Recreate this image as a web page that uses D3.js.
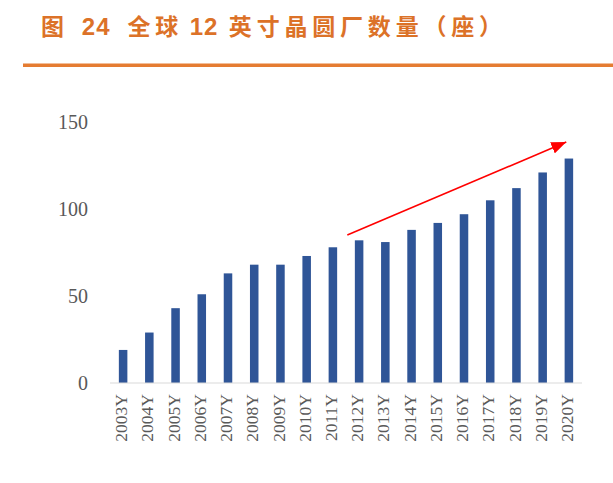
<!DOCTYPE html>
<html>
<head>
<meta charset="utf-8">
<script src="https://cdn.jsdelivr.net/npm/d3@7"></script>
<style>
  body { margin: 0; background: #fff; }
</style>
</head>
<body>
<div id="chart"></div>
<script>
// Global 12-inch fab count per year
const years = ["2003Y", "2004Y", "2005Y", "2006Y", "2007Y", "2008Y", "2009Y", "2010Y", "2011Y",
  "2012Y", "2013Y", "2014Y", "2015Y", "2016Y", "2017Y", "2018Y", "2019Y", "2020Y"]
const fabCounts = [19, 29, 43, 51, 63, 68, 68, 73, 78, 82, 81, 88, 92, 97, 105, 112, 121, 129]
const yTicks = [0, 50, 100, 150]
// title pieces: CJK runs are spaced wider than the digit runs
const titleParts = ["图", "24", "全球", "12", "英寸晶圆厂数量（座）"]
const titleGaps = [0, 13, 17, 6.5, 10.5]
// trend arrow: [category, offset in bands, value]
const arrowFrom = ["2011Y", 0.55, 85]
const arrowTo = ["2020Y", -0.1, 138.5]

const width = 613
const height = 483
const margin = { top: 122, right: 31, bottom: 100, left: 110 }

const svg = d3.select("#chart")
  .append("svg")
  .attr("width", width)
  .attr("height", height)
  .attr("viewBox", `0 0 ${width} ${height}`)

// --- Title and orange rule ---
const isDigits = s => /^[0-9]+$/.test(s)

svg.append("text")
  .attr("x", 41)
  .attr("y", 35)
  .attr("fill", "#dc7228")
  .attr("font-weight", "bold")
  .selectAll("tspan")
  .data(titleParts)
  .join("tspan")
  .attr("dx", (d, i) => titleGaps[i])
  .attr("font-family", d => isDigits(d)
    ? "'Liberation Sans', Arial, sans-serif"
    : "'Noto Sans CJK SC', sans-serif")
  .attr("font-size", d => isDigits(d) ? "24px" : "23px")
  .attr("letter-spacing", d => isDigits(d) ? "1px" : "4.8px")
  .text(d => d)

svg.append("line")
  .attr("x1", 23)
  .attr("x2", width)
  .attr("y1", 65.3)
  .attr("y2", 65.3)
  .attr("stroke", "#e57c32")
  .attr("stroke-width", 3.5)

const xScale = d3.scaleBand()
  .domain(years)
  .range([margin.left, width - margin.right])
  .paddingInner(0.675)
  .paddingOuter(0.3375)

const yScale = d3.scaleLinear()
  .domain([0, 150])
  .range([383, margin.top])

// --- Bars ---
svg.append("g")
  .selectAll("rect")
  .data(fabCounts)
  .join("rect")
  .attr("x", (d, i) => xScale(years[i]))
  .attr("y", d => yScale(d))
  .attr("width", xScale.bandwidth())
  .attr("height", d => yScale(0) - yScale(d))
  .attr("fill", "#2f5597")

// baseline
svg.append("line")
  .attr("x1", margin.left)
  .attr("x2", width - margin.right)
  .attr("y1", yScale(0))
  .attr("y2", yScale(0))
  .attr("stroke", "#d9d9d9")
  .attr("stroke-width", 1.2)

// --- Y axis (labels only) ---
const yAxis = d3.axisLeft(yScale)
  .tickValues(yTicks)
  .tickSize(0)
  .tickPadding(0)

svg.append("g")
  .attr("transform", `translate(88,0)`)
  .call(yAxis)
  .call(g => g.select(".domain").remove())
  .selectAll("text")
  .attr("fill", "#595959")
  .attr("font-family", "'Liberation Serif', 'Times New Roman', serif")
  .attr("font-size", "20px")

// --- X axis (rotated labels) ---
const xAxis = d3.axisBottom(xScale).tickSize(0).tickPadding(0)

svg.append("g")
  .attr("transform", `translate(-2,${yScale(0)})`)
  .call(xAxis)
  .call(g => g.select(".domain").remove())
  .selectAll("text")
  .attr("fill", "#595959")
  .attr("font-family", "'Liberation Serif', 'Times New Roman', serif")
  .attr("font-size", "17.5px")
  .attr("text-anchor", "end")
  .attr("transform", "rotate(-90)")
  .attr("x", -11)
  .attr("y", 0)
  .attr("dy", "0.35em")

// --- Trend arrow ---
const step = xScale.step()
const arrowX = a => xScale(a[0]) + xScale.bandwidth() / 2 + a[1] * step

svg.append("defs")
  .append("marker")
  .attr("id", "arrowhead")
  .attr("markerUnits", "userSpaceOnUse")
  .attr("markerWidth", 16)
  .attr("markerHeight", 12)
  .attr("refX", 15)
  .attr("refY", 6)
  .attr("orient", "auto")
  .append("path")
  .attr("d", "M0,0 L15,6 L0,12 Z")
  .attr("fill", "#ff0000")

svg.append("line")
  .attr("x1", arrowX(arrowFrom))
  .attr("y1", yScale(arrowFrom[2]))
  .attr("x2", arrowX(arrowTo))
  .attr("y2", yScale(arrowTo[2]))
  .attr("stroke", "#ff0000")
  .attr("stroke-width", 1.6)
  .attr("marker-end", "url(#arrowhead)")
</script>
</body>
</html>
